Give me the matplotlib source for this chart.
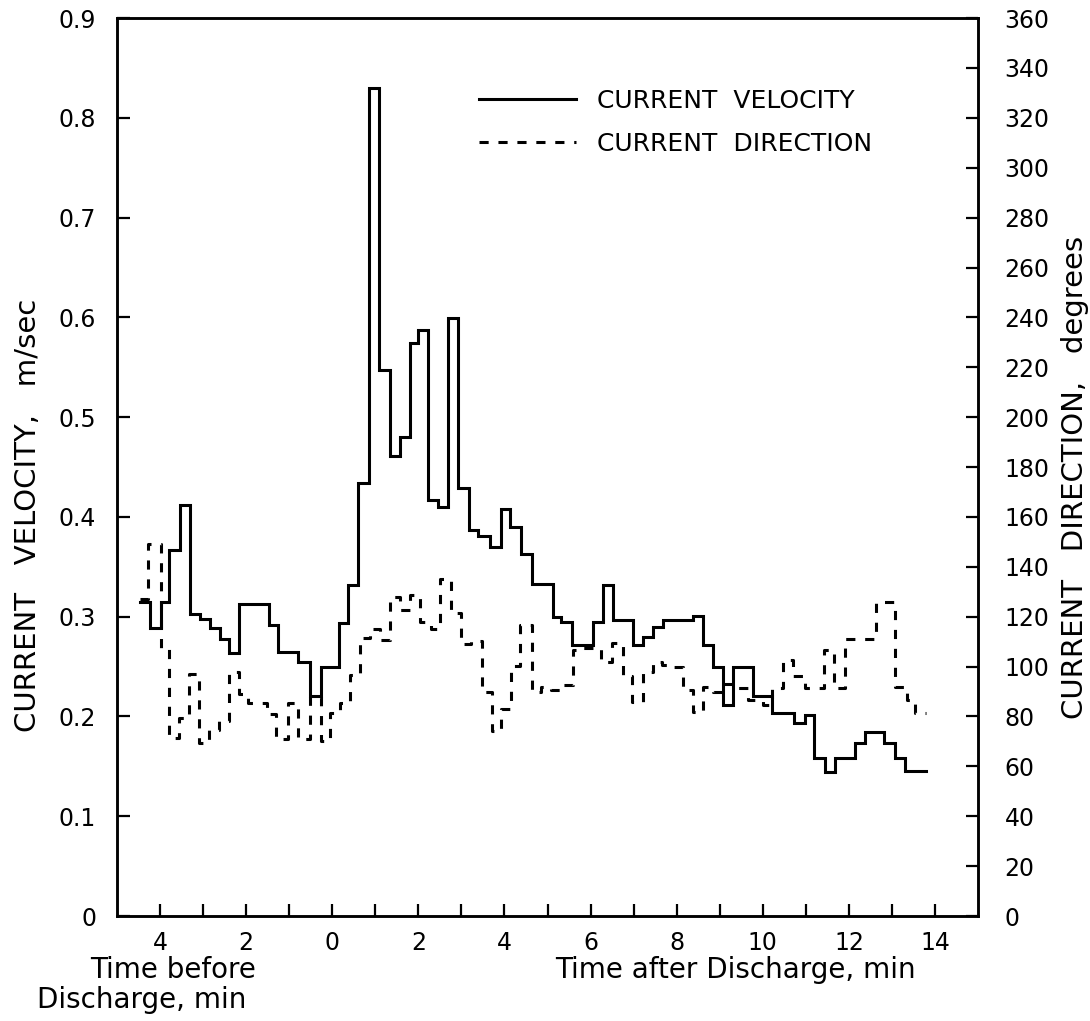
# Current velocity and direction around a discharge (step records)

import numpy as np
import matplotlib
matplotlib.use("Agg")
import matplotlib.pyplot as plt
from matplotlib.lines import Line2D

plt.rcParams["font.family"] = ["DejaVu Sans"]

# velocity record: step edges (min, negative = before discharge) and values (m/sec)
VEL_EDGES = [-4.47, -4.24, -3.97, -3.79, -3.54, -3.31, -3.08, -2.85, -2.61, -2.40,
             -2.16, -1.47, -1.26, -0.79, -0.52, -0.27, 0.16, 0.37, 0.60, 0.85,
             1.08, 1.34, 1.57, 1.80, 1.99, 2.23, 2.46, 2.69, 2.92, 3.18,
             3.39, 3.66, 3.93, 4.14, 4.39, 4.63, 5.13, 5.32, 5.56, 6.06,
             6.28, 6.51, 6.99, 7.22, 7.44, 7.68, 8.37, 8.61, 8.85, 9.08,
             9.31, 9.77, 10.22, 10.73, 10.98, 11.19, 11.44, 11.67, 12.14, 12.37,
             12.82, 13.07, 13.31, 13.78]
VELOCITY = [0.315, 0.289, 0.315, 0.367, 0.412, 0.303, 0.298, 0.289, 0.278, 0.264,
            0.313, 0.292, 0.265, 0.255, 0.221, 0.250, 0.294, 0.332, 0.434, 0.830,
            0.547, 0.461, 0.480, 0.574, 0.587, 0.417, 0.410, 0.599, 0.429, 0.387,
            0.381, 0.370, 0.408, 0.390, 0.363, 0.333, 0.300, 0.295, 0.272, 0.295,
            0.332, 0.297, 0.272, 0.280, 0.290, 0.297, 0.301, 0.272, 0.250, 0.212,
            0.250, 0.221, 0.203, 0.193, 0.201, 0.158, 0.144, 0.158, 0.173, 0.184,
            0.173, 0.158, 0.145]

# direction record: step edges (min) and values (degrees)
DIR_EDGES = [-4.47, -4.28, -3.97, -3.79, -3.56, -3.33, -3.09, -2.86, -2.63, -2.40,
             -2.16, -1.96, -1.51, -1.30, -1.03, -0.79, -0.52, -0.27, -0.06, 0.17,
             0.41, 0.64, 0.87, 1.10, 1.34, 1.57, 1.80, 2.03, 2.30, 2.51,
             2.77, 3.00, 3.23, 3.47, 3.70, 3.93, 4.16, 4.37, 4.63, 4.86,
             5.09, 5.32, 5.59, 5.83, 6.25, 6.49, 6.75, 6.97, 7.21, 7.44,
             7.67, 7.92, 8.15, 8.38, 8.61, 8.85, 9.08, 9.31, 9.66, 10.00,
             10.22, 10.47, 10.70, 10.98, 11.42, 11.66, 11.90, 12.62, 13.08, 13.34,
             13.53, 13.78]
DIRECTION = [127, 149, 107.5, 71.2, 79.5, 96.9, 69.2, 74.6, 78.2, 97.7,
             88.9, 85.3, 80.8, 70.9, 85.3, 70.9, 88, 70.1, 81.2, 85.3,
             96.6, 111.5, 115, 110.6, 128, 122.6, 128.9, 117.7, 115, 135.3,
             121.3, 108.9, 110.2, 89.9, 74.1, 83.2, 100.3, 116.6, 89.9, 91.9,
             90.8, 92.6, 106.6, 107.3, 102, 109.3, 96.2, 85.9, 97.9, 102,
             100.6, 99.9, 90.8, 81.9, 91.9, 89.9, 93.2, 91.3, 86.6, 84.6,
             91.3, 102.6, 96.2, 91.3, 106.6, 91.3, 110.9, 126, 91.9, 86.6,
             81.5]

X_TICKS = list(range(-4, 15))
X_LABELS = [str(abs(t)) if t % 2 == 0 else "" for t in X_TICKS]
VEL_TICKS = [0, 0.1, 0.2, 0.3, 0.4, 0.5, 0.6, 0.7, 0.8, 0.9]
VEL_LABELS = ["0", "0.1", "0.2", "0.3", "0.4", "0.5", "0.6", "0.7", "0.8", "0.9"]
DIR_TICKS = list(range(0, 361, 20))

LW = 2.2
FS = 17
DASH = (0, (3, 3.2))

fig = plt.figure(figsize=(10.9, 10.21), dpi=100)
ax = fig.add_axes([0.1073, 0.1028, 0.790, 0.8795])
ax2 = ax.twinx()

ax.step(VEL_EDGES, VELOCITY + [VELOCITY[-1]], where="post",
        color="black", lw=LW, solid_joinstyle="miter")
ax2.step(DIR_EDGES, DIRECTION + [DIRECTION[-1]], where="post",
         color="black", lw=LW, linestyle=DASH)

ax.set_xlim(-5, 15)
ax.set_ylim(0, 0.9)
ax2.set_ylim(0, 360)

ax.set_xticks(X_TICKS)
ax.set_xticklabels(X_LABELS)
ax.set_yticks(VEL_TICKS)
ax.set_yticklabels(VEL_LABELS)
ax2.set_yticks(DIR_TICKS)

ax.tick_params(axis="x", direction="in", length=9, width=1.6, labelsize=FS, pad=11)
ax.tick_params(axis="y", direction="in", length=9, width=1.6, labelsize=FS, pad=15)
ax2.tick_params(axis="y", direction="in", length=9, width=1.6, labelsize=FS, pad=19)

for a in (ax, ax2):
    for s in a.spines.values():
        s.set_linewidth(1.8)

# axis titles, placed as in the original drawing
fig.text(28 / 1090, 1 - 515 / 1021, "CURRENT   VELOCITY,   m/sec", fontsize=21,
         rotation=90, ha="center", va="center")
fig.text(1075 / 1090, 1 - 477 / 1021, "CURRENT   DIRECTION,   degrees", fontsize=21,
         rotation=90, ha="center", va="center")

fig.text(735 / 1090, 0.05, "Time after Discharge, min", fontsize=20, ha="center", va="center")
fig.text(256 / 1090, 0.05, "Time before", fontsize=20, ha="right", va="center")
fig.text(246 / 1090, 0.021, "Discharge, min", fontsize=20, ha="right", va="center")

handles = [Line2D([], [], color="black", lw=LW),
           Line2D([], [], color="black", lw=LW, linestyle=DASH)]
ax.legend(handles, ["CURRENT  VELOCITY", "CURRENT  DIRECTION"],
          loc="upper left", bbox_to_anchor=(0.42, 0.921), frameon=False,
          fontsize=18, handlelength=3.9, handletextpad=0.85, labelspacing=0.75,
          borderpad=0, borderaxespad=0)

fig.savefig("out.png", dpi=100, facecolor="white")
